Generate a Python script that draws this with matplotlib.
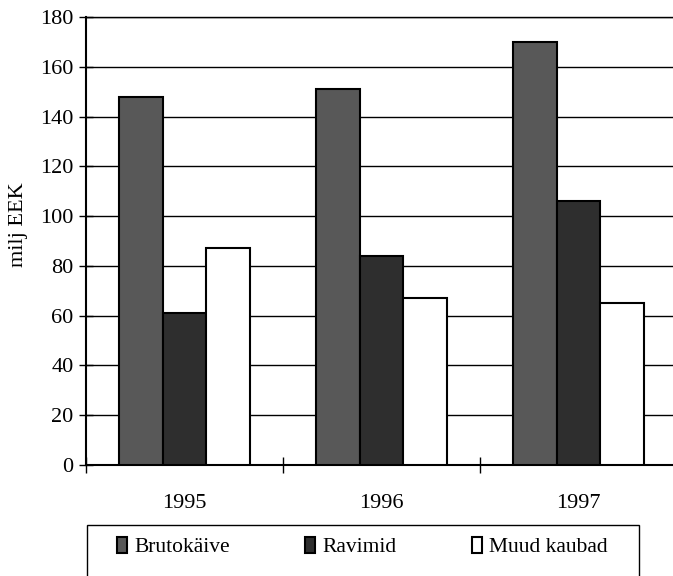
import matplotlib
matplotlib.use("Agg")
import matplotlib.pyplot as plt
import matplotlib.patches as mpatches
import numpy as np

years = ["1995", "1996", "1997"]
series_names = ["Brutokäive", "Ravimid", "Muud kaubad"]
brutokaive = [148, 151, 170]
ravimid = [61, 84, 106]
muud_kaubad = [87, 67, 65]
y_ticks = [0, 20, 40, 60, 80, 100, 120, 140, 160, 180]

plt.rcParams['font.family'] = ['Liberation Serif', 'DejaVu Serif']

W, H = 673, 576
fig = plt.figure(figsize=(W / 100, H / 100), dpi=100)
ax = fig.add_axes([86 / W, 1 - 465 / H, (677 - 86) / W, (465 - 17) / H])

colors = ['#585858', '#2e2e2e', '#ffffff']
bw = 0.22
x = np.arange(len(years))
for i, (vals, col, name) in enumerate(zip([brutokaive, ravimid, muud_kaubad], colors, series_names)):
    ax.bar(x + (i - 1) * bw, vals, width=bw, color=col, edgecolor='black',
           linewidth=1.5, label=name, zorder=3)

ax.set_xlim(-0.5, 2.5)
ax.set_ylim(0, 180)
ax.set_yticks(y_ticks)
ax.yaxis.grid(True, color='black', linewidth=1.0, zorder=0)
ax.set_axisbelow(True)

ax.set_xticks([-0.5, 0.5, 1.5, 2.5])
ax.set_xticklabels([])
ax.set_xticks(x, minor=True)
ax.set_xticklabels(years, minor=True)
ax.tick_params(axis='x', which='major', direction='inout', length=11.5, width=1)
ax.tick_params(axis='x', which='minor', length=0, pad=21, labelsize=16)
ax.tick_params(axis='y', direction='inout', length=10, width=1, pad=4, labelsize=16)

ax.spines['right'].set_visible(False)
ax.spines['top'].set_linewidth(1.0)
ax.spines['left'].set_linewidth(1.5)
ax.spines['bottom'].set_linewidth(1.5)

fig.text(18 / W, 1 - 225 / H, "milj EEK", rotation=90, ha='center', va='center', fontsize=16)

# legend frame
rect = mpatches.Rectangle((87 / W, -0.05), (639 - 87) / W, (576 - 525) / H + 0.05,
                          transform=fig.transFigure, fill=False, edgecolor='black',
                          linewidth=1.0, clip_on=False)
fig.patches.append(rect)

leg = fig.legend(loc='center', bbox_to_anchor=(117 / W, 1 - 569 / H, (608 - 117) / W, 44 / H),
                 bbox_transform=fig.transFigure, ncol=3, mode='expand', frameon=False,
                 fontsize=15.5, handlelength=0.45, handleheight=0.75, handletextpad=0.35,
                 borderaxespad=0, borderpad=0)

fig.savefig("out.png", dpi=100)
